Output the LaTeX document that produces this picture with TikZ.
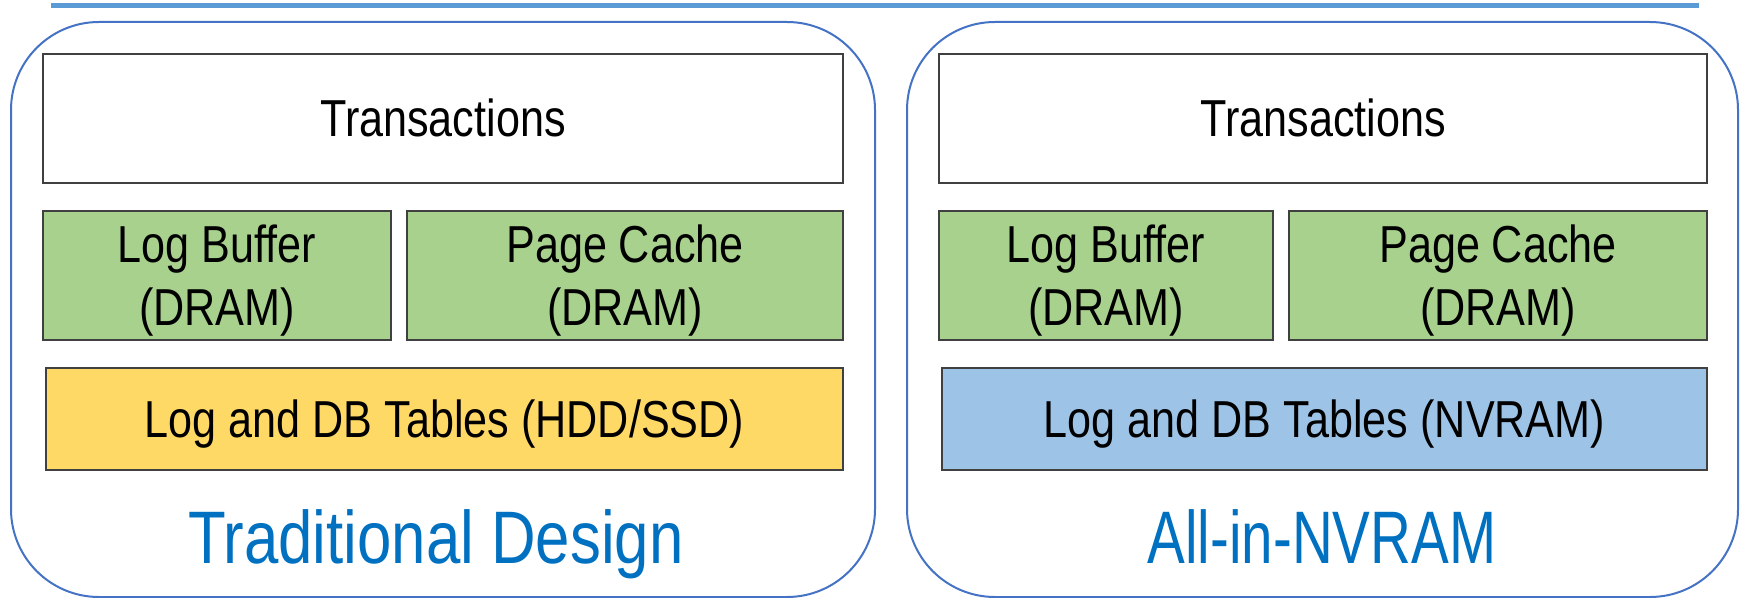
\documentclass[tikz,border=0pt]{standalone}
\usepackage{fontspec}
\setmainfont{Liberation Sans}[FakeStretch=0.83]
\newfontfamily\narrowsans{Liberation Sans}[FakeStretch=0.76]
\usetikzlibrary{positioning}
\definecolor{panelblue}{HTML}{4472C4}
\definecolor{ruleblue}{HTML}{5B9BD5}
\definecolor{titleblue}{HTML}{0070C0}
\definecolor{dramgreen}{HTML}{A9D18E}
\definecolor{diskyellow}{HTML}{FFD966}
\definecolor{nvblue}{HTML}{9DC3E6}
\definecolor{edgegray}{HTML}{404040}

\begin{document}
\begin{tikzpicture}[x=0.5pt, y=-0.5pt,
    panel/.style = {draw=panelblue, line width=1pt, rounded corners=44pt,
                    minimum height=287.5pt},
    layer/.style = {draw=edgegray, line width=0.7pt, inner sep=0pt,
                    minimum height=64.5pt, align=center,
                    font=\fontsize{26}{31.5}\selectfont},
    oneline/.style = {text height=18.5pt, text depth=0pt},
    twoline/.style = {text depth=0pt},
    title/.style = {anchor=base, text=titleblue,
                    font=\fontsize{37.2}{44}\selectfont}]
  \useasboundingbox (0,0) rectangle (1743,598);
  \coordinate (rulea) at (51,6);
  \coordinate (ruleb) at (1699,6);
  \draw [ruleblue, line width=2.5pt] (rulea) -- (ruleb);

  % traditional design
  \node [panel, minimum width=432pt] (panelL) at (443,309.5) {};
  \node [layer, oneline, minimum width=400pt] (transL) at (443,118.5) {Transactions};
  \node [layer, twoline, fill=dramgreen, minimum width=174pt] (logL) at (217,275.5) {Log Buffer\\(DRAM)};
  \node [layer, twoline, fill=dramgreen, minimum width=218pt] (pageL) at (625,275.5) {Page Cache\\(DRAM)};
  \node [layer, oneline, fill=diskyellow, minimum width=398.5pt, minimum height=51pt] (diskL) at (444.5,419) {Log and DB Tables (HDD/SSD)};
  \node [title] (titleL) at (436,563) {Traditional Design};

  % all in nvram
  \node [panel, minimum width=415.5pt] (panelR) at (1322.5,309.5) {};
  \node [layer, oneline, minimum width=384pt] (transR) at (1323,118.5) {Transactions};
  \node [layer, twoline, fill=dramgreen, minimum width=167pt] (logR) at (1106,275.5) {Log Buffer\\(DRAM)};
  \node [layer, twoline, fill=dramgreen, minimum width=209pt] (pageR) at (1498,275.5) {Page Cache\\(DRAM)};
  \node [layer, oneline, fill=nvblue, minimum width=382.5pt, minimum height=51pt] (nvR) at (1324.5,419) {Log and DB Tables (NVRAM)};
  \node [title, font=\narrowsans\fontsize{37.2}{44}\selectfont] (titleR) at (1322,563) {All-in-NVRAM};
\end{tikzpicture}
\end{document}
